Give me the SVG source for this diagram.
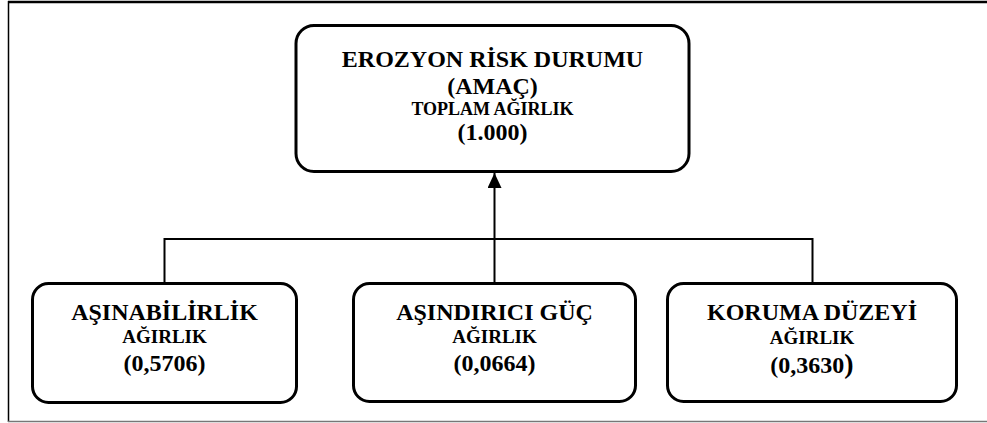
<svg xmlns="http://www.w3.org/2000/svg" width="987" height="423" viewBox="0 0 987 423">
<defs>
<style>
.box{fill:#fff;stroke:#000;stroke-width:3}
.con{fill:none;stroke:#000;stroke-width:2}
text{font-family:"Liberation Serif","Times New Roman",serif;font-weight:bold;fill:#000;text-anchor:middle}
.big{font-size:24px}
.small{font-size:18px}
.sub{font-size:19px}
</style>
<marker id="arr" viewBox="0 0 16 14" refX="15" refY="7" markerWidth="16" markerHeight="14" markerUnits="userSpaceOnUse" orient="auto">
<path d="M0,0 L15,7 L0,14 Z" fill="#000"/>
</marker>
</defs>
<rect width="987" height="423" fill="#fff"/>
<g id="frame">
<line x1="8" y1="2" x2="987" y2="2" stroke="#000" stroke-width="2.5"/>
<line x1="8.5" y1="1" x2="8.5" y2="422" stroke="#000" stroke-width="1.5"/>
<line x1="8" y1="421.5" x2="987" y2="421.5" stroke="#777" stroke-width="1.5"/>
</g>
<g id="connectors">
<polyline class="con" points="164.5,283 164.5,239 812.5,239 812.5,283"/>
<line class="con" x1="494.5" y1="283" x2="494.5" y2="173" marker-end="url(#arr)"/>
</g>
<g id="goal">
<rect class="box" x="296" y="25.5" width="393" height="146" rx="18"/>
<text class="big" x="492.5" y="67">EROZYON RİSK DURUMU</text>
<text class="big" x="492.5" y="94">(AMAÇ)</text>
<text class="small" x="492.5" y="115">TOPLAM AĞIRLIK</text>
<text class="big" x="492.5" y="140">(1.000)</text>
</g>
<g id="asinabilirlik">
<rect class="box" x="32.5" y="283.5" width="264" height="119" rx="16"/>
<text class="big" x="164.5" y="320">AŞINABİLİRLİK</text>
<text class="sub" x="164.5" y="343">AĞIRLIK</text>
<text class="big" x="164.5" y="371">(0,5706)</text>
</g>
<g id="asindirici">
<rect class="box" x="353.5" y="283.5" width="282" height="118" rx="16"/>
<text class="big" x="494.5" y="320">AŞINDIRICI GÜÇ</text>
<text class="sub" x="494.5" y="343">AĞIRLIK</text>
<text class="big" x="494.5" y="371">(0,0664)</text>
</g>
<g id="koruma">
<rect class="box" x="667.5" y="283.5" width="289" height="118" rx="16"/>
<text class="big" x="812" y="320">KORUMA DÜZEYİ</text>
<text class="sub" x="812" y="344">AĞIRLIK</text>
<text class="big" x="812" y="373">(0,3630<tspan font-size="28">)</tspan></text>
</g>
</svg>
